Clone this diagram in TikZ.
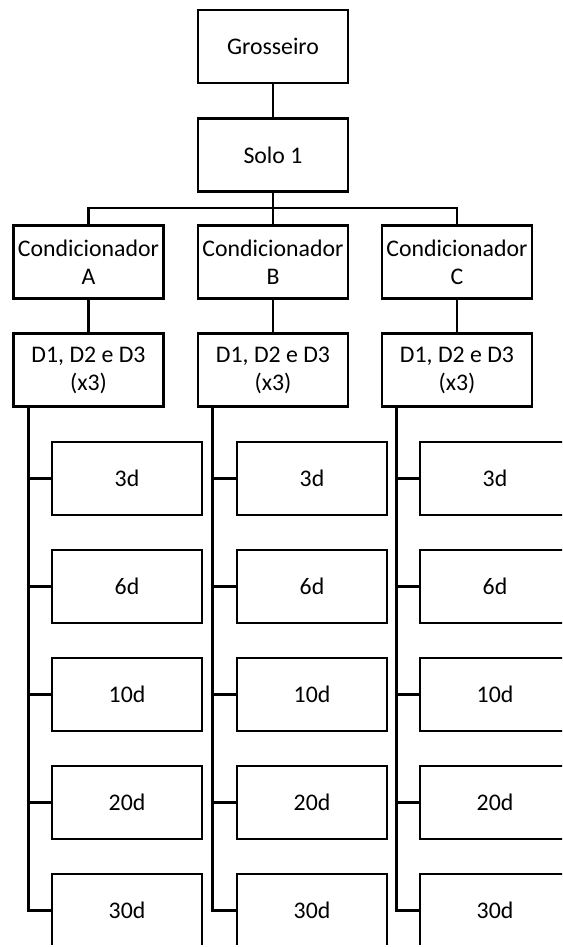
\documentclass[tikz,border=0pt]{standalone}
\usepackage{fontspec}
\setmainfont{Carlito}
\begin{document}
\begin{tikzpicture}[x=1pt,y=-1pt,
  box/.style={draw, line width=2.6pt, minimum width=150pt, minimum height=73pt, inner sep=0pt, align=center, font=\fontsize{23.8}{28}\selectfont},
  conn/.style={line width=2.6pt}]
\useasboundingbox (0,0) rectangle (562,947);
\clip (0,0) rectangle (562,944.5);
\node[box] (g) at (273,46.5) {Grosseiro};
\node[box] (s) at (273,155) {Solo 1};
\coordinate (bus) at (273,208);
\foreach \n/\x/\cx in {A/88.5/127, B/273/312, C/457/495}{
  \node[box] (c\n) at (\x,262) {Condicionador\\\n};
  \node[box] (d\n) at (\x,370) {D1, D2 e D3\\(x3)};
  \coordinate (sp\n) at ([xshift=16pt]d\n.south west);
  \foreach \t/\k in {3/0,6/1,10/2,20/3,30/4}{
    \node[box] (t\t\n) at (\cx,{478.5+108*\k}) {\t d};
    \draw[conn] (t\t\n.west) -- (t\t\n.west -| sp\n);
  }
  \draw[conn] (sp\n) |- (t30\n.west);
  \draw[conn] (c\n) -- (d\n);
}
\draw[conn] (g) -- (s);
\draw[conn] (s.south) -- (cB.north);
\draw[conn] (cA.north) |- (bus) -| (cC.north);
\end{tikzpicture}
\end{document}
